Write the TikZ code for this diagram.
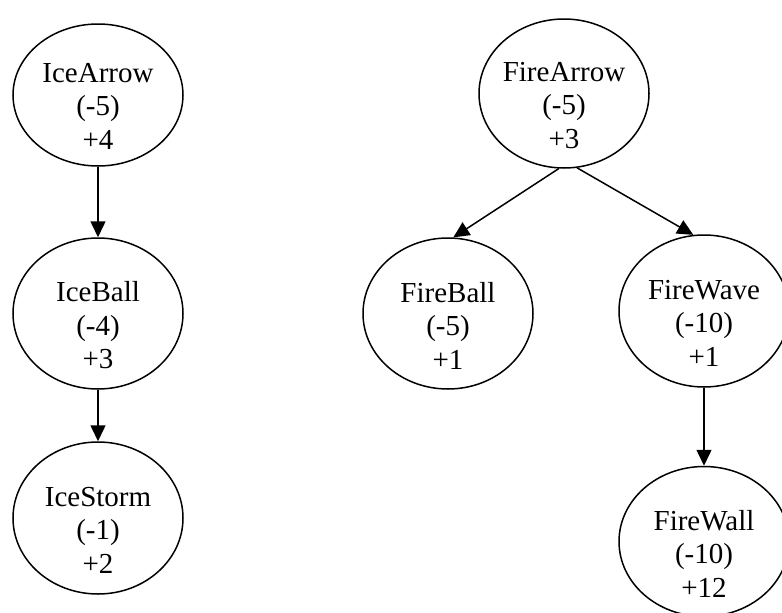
\documentclass[tikz,border=0pt]{standalone}
\usepackage{fontspec}
\setmainfont{Liberation Serif}
\usetikzlibrary{shapes.geometric,arrows.meta}
\begin{document}
\begin{tikzpicture}[x=1pt,y=1pt,
  ell/.style={draw,ellipse,line width=1.5pt,minimum width=170pt,inner sep=0pt},
  lbl/.style={align=center,font=\fontsize{29}{33.5}\selectfont,inner sep=0pt},
  edge/.style={-{Triangle[length=16pt,width=15pt]},line width=1.5pt}]
\useasboundingbox (0,0) rectangle (782,-613);
% nodes
\node[ell,minimum height=142pt] (ia) at (98,-95) {};
\node[ell,minimum height=151pt] (ib) at (98,-313.5) {};
\node[ell,minimum height=152pt] (is) at (98,-518) {};
\node[ell,minimum height=149pt] (fa) at (564,-93.5) {};
\node[ell,minimum height=151pt] (fb) at (448,-313.5) {};
\node[ell,minimum height=152pt] (fw) at (704,-311) {};
\node[ell,minimum height=150pt] (fl) at (704,-541.5) {};
% labels
\node[lbl] (iat) at ([yshift=-11pt]ia.center) {IceArrow\\(-5)\\+4};
\node[lbl] (ibt) at ([yshift=-12pt]ib.center) {IceBall\\(-4)\\+3};
\node[lbl] (ist) at ([yshift=-12pt]is.center) {IceStorm\\(-1)\\+2};
\node[lbl] (fat) at ([yshift=-12pt]fa.center) {FireArrow\\(-5)\\+3};
\node[lbl] (fbt) at ([yshift=-12pt]fb.center) {FireBall\\(-5)\\+1};
\node[lbl] (fwt) at ([yshift=-12pt]fw.center) {FireWave\\(-10)\\+1};
\node[lbl] (flt) at ([yshift=-12pt]fl.center) {FireWall\\(-10)\\+12};
% edges
\draw[edge] (ia.south) -- (ib.north);
\draw[edge] (ib.south) -- (is.north);
\draw[edge] (fa.266.9) -- (fb.86.4);
\draw[edge] (fa.280.6) -- (fw.98.2);
\draw[edge] (fw.south) -- (fl.north);
\end{tikzpicture}
\end{document}
